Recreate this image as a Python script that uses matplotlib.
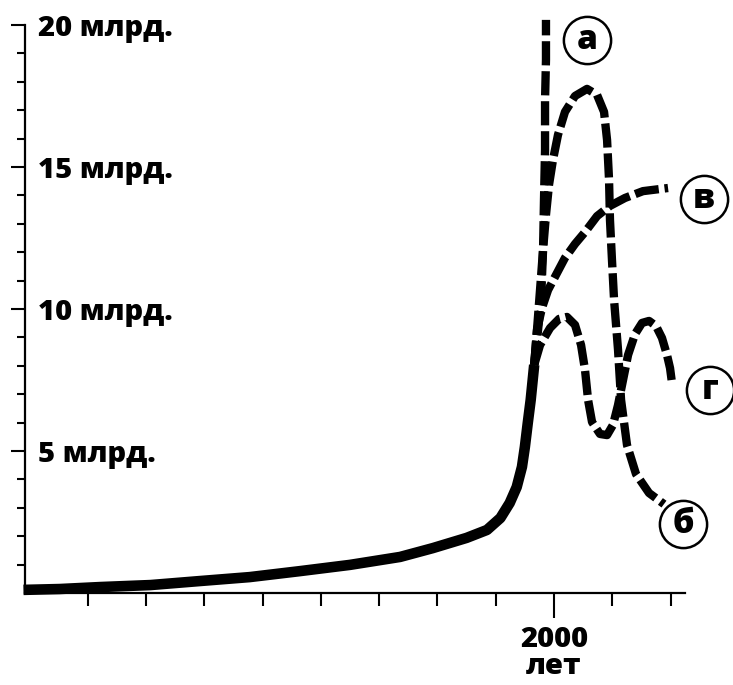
import numpy as np
import matplotlib as mpl
import matplotlib.pyplot as plt
from matplotlib.ticker import FixedLocator

mpl.rcParams['font.family'] = ['Open Sans', 'DejaVu Sans']
mpl.rcParams['font.weight'] = 'heavy'

# население, млрд. человек
base_years = [1545, 1576, 1611, 1654, 1696, 1739, 1782, 1825, 1868, 1896,
              1925, 1942.5, 1954, 1962, 1968, 1972.5, 1975, 1977.5, 1980, 1983]
base_pop = [0.11, 0.14, 0.21, 0.28, 0.42, 0.56, 0.77, 0.99, 1.27, 1.58,
            1.94, 2.22, 2.64, 3.17, 3.73, 4.44, 5.14, 5.99, 6.80, 8.03]

# сценарий а - неограниченный рост
a_years = [1983, 1986.3, 1988.9, 1990.6, 1991.4, 1992.3, 1992.3, 1993.1, 1993.1]
a_pop = [8.03, 9.26, 10.32, 12.08, 13.84, 15.60, 17.36, 18.77, 20.18]

# сценарий б - рост и резкий спад
b_years = [1983, 1985.4, 1988.0, 1990.6, 1993.1, 1995.7, 1999.1, 2003.4, 2009.4,
           2018.0, 2028.3, 2036.9, 2042.9, 2045.5, 2047.2, 2048.0, 2049.7,
           2051.5, 2054.9, 2057.5, 2062.6, 2070.3, 2081.5, 2094.3]
b_pop = [8.03, 9.26, 10.67, 12.08, 13.31, 14.37, 15.25, 16.13, 16.94,
         17.50, 17.75, 17.54, 16.94, 15.95, 14.54, 13.13, 11.73,
         10.32, 8.56, 6.80, 5.21, 4.19, 3.52, 3.13]

# сценарий в - выход на плато
v_years = [1983, 1985.4, 1989.7, 1994.9, 2001.7, 2009.4, 2018.0, 2026.6,
           2036.9, 2048.0, 2060.9, 2076.3, 2097.8]
v_pop = [8.03, 9.26, 10.04, 10.67, 11.20, 11.80, 12.29, 12.71,
         13.27, 13.63, 13.91, 14.15, 14.26]

# сценарий г - колебания
g_years = [1983, 1988.0, 1996.6, 2004.3, 2011.1, 2018.0, 2023.2, 2026.6,
           2029.2, 2032.6, 2039.4, 2045.5, 2050.6, 2054.9, 2059.2, 2063.5,
           2069.5, 2075.5, 2081.5, 2087.5, 2092.6, 2096.9, 2099.5, 2101.2]
g_pop = [8.03, 8.73, 9.33, 9.65, 9.72, 9.44, 8.73, 7.85,
         6.80, 6.02, 5.60, 5.56, 5.92, 6.62, 7.50, 8.38,
         9.12, 9.51, 9.58, 9.40, 8.98, 8.38, 7.92, 7.39]

y_major = [5, 10, 15, 20]
y_labels = ['5 млрд.', '10 млрд.', '15 млрд.', '20 млрд.']
x_minor = [1600, 1650, 1700, 1750, 1800, 1850, 1900, 1950, 2050, 2100]

fig = plt.figure(figsize=(7.33, 6.85), dpi=100)
ax = fig.add_axes([25 / 733, 92 / 685, 708 / 733, 593 / 685])
ax.set_xlim(1546.3, 2153.5)
ax.set_ylim(0, 20.88)

dash = (0, (2.9, 0.7))
ax.plot(base_years, base_pop, color='black', lw=7.6, solid_capstyle='butt',
        solid_joinstyle='round', clip_on=False)
for xs, ys in [(a_years, a_pop), (b_years, b_pop), (v_years, v_pop), (g_years, g_pop)]:
    ax.plot(xs, ys, color='black', lw=6.0, linestyle=dash, clip_on=False)

# подписи сценариев в кружках
marks = {'а': (2028.3, 19.47), 'в': (2128.6, 13.87), 'г': (2133.8, 7.15), 'б': (2110.6, 2.43)}
for letter, (mx, my) in marks.items():
    ax.plot([mx], [my], marker='o', ms=34, mfc='white', mec='black', mew=1.8,
            clip_on=False, zorder=5)
    ax.text(mx, my, letter, ha='center', va='center', fontsize=24,
            fontweight='heavy', zorder=6, clip_on=False)

for side in ['top', 'right']:
    ax.spines[side].set_visible(False)
ax.spines['left'].set_bounds(0, 20)
ax.spines['bottom'].set_bounds(1546.3, 2112.3)
ax.spines['left'].set_linewidth(1.6)
ax.spines['bottom'].set_linewidth(1.6)

ax.set_yticks(y_major, labels=y_labels)
ax.yaxis.set_minor_locator(FixedLocator([v for v in range(1, 20) if v % 5]))
ax.tick_params(axis='y', which='major', direction='out', length=10, width=1.5,
               pad=-19.4, labelsize=21)
ax.tick_params(axis='y', which='minor', direction='out', length=5.8, width=1.5)
for lbl in ax.get_yticklabels():
    lbl.set_ha('left')
    lbl.set_fontweight('heavy')

ax.set_xticks([2000], labels=['2000\nлет'])
ax.xaxis.set_minor_locator(FixedLocator(x_minor))
ax.tick_params(axis='x', which='major', direction='out', length=18, width=1.5,
               pad=5, labelsize=21)
ax.tick_params(axis='x', which='minor', direction='out', length=9.4, width=1.5)
for lbl in ax.get_xticklabels():
    lbl.set_fontweight('heavy')
    lbl.set_linespacing(0.9)

fig.savefig('out.png', dpi=100)
